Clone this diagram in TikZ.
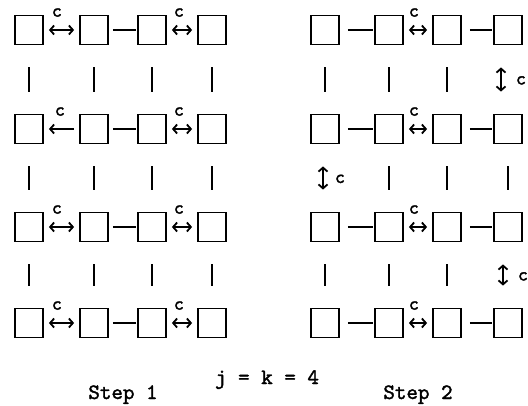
\documentclass[tikz,border=0pt]{standalone}
\usepackage{fontspec}
\newfontfamily\twfont[FakeBold=1.6]{lmmono10-regular.otf}
\usetikzlibrary{arrows.meta}
\begin{document}
\begin{tikzpicture}[x=1pt,y=-1pt,
  box/.style={draw, line width=1.8pt, minimum width=28pt, minimum height=29pt, inner sep=0pt},
  bar/.style={line width=1.6pt, shorten <=22pt, shorten >=22pt},
  link/.style={line width=1.8pt},
  dbl/.style={line width=1.8pt, {Straight Barb[length=4pt,width=9pt]}-{Straight Barb[length=4pt,width=9pt]}, shorten <=5pt, shorten >=5pt},
  larr/.style={line width=1.8pt, -{Straight Barb[length=4pt,width=9pt]}, shorten <=5pt, shorten >=5pt},
  vdbl/.style={line width=1.8pt, {Straight Barb[length=4pt,width=9pt]}-{Straight Barb[length=4pt,width=9pt]}, shorten <=22pt, shorten >=22pt},
  lab/.style={font=\twfont\fontsize{19}{19}\selectfont, inner sep=0pt},
  txt/.style={font=\twfont\fontsize{22}{24}\selectfont, anchor=base, inner sep=0pt}]
\useasboundingbox (0,0) rectangle (528,405);
% boxes
\foreach \r/\y in {1/30,2/129,3/227,4/323}{
  \foreach \c/\x in {1/29,2/94,3/152,4/212} \node[box] (L\r\c) at (\x,\y) {};
  \foreach \c/\x in {1/325,2/389,3/447,4/508} \node[box] (R\r\c) at (\x,\y) {};
}
% left vertical bars
\foreach \a/\b in {1/2,2/3,3/4} \foreach \c in {1,...,4} \draw[bar] (L\a\c) -- (L\b\c);
% right vertical bars
\foreach \c in {1,2,3} \draw[bar] (R1\c) -- (R2\c);
\foreach \c in {2,3,4} \draw[bar] (R2\c) -- (R3\c);
\foreach \c in {1,2,3} \draw[bar] (R3\c) -- (R4\c);
% right vertical double arrows
\draw[vdbl] ([xshift=-7pt]R14.south) -- ([xshift=-7pt]R24.north);
\node[lab] (cv1) at ([xshift=13pt,yshift=-35pt]R14.south) {c};
\draw[vdbl] ([xshift=-2pt]R21.south) -- ([xshift=-2pt]R31.north);
\node[lab] (cv2) at ([xshift=15pt,yshift=-34.5pt]R21.south) {c};
\draw[vdbl] ([xshift=-5pt]R34.south) -- ([xshift=-5pt]R44.north);
\node[lab] (cv3) at ([xshift=15pt,yshift=-34pt]R34.south) {c};
% left horizontal connectors
\foreach \r in {1,3,4} {
  \draw[dbl] (L\r1) -- (L\r2);
  \node[lab] (cl\r a) at ([xshift=13pt,yshift=2pt]L\r1.north east) {c};
}
\draw[larr] (L22) -- (L21);
\node[lab] (cl2a) at ([xshift=16pt,yshift=2pt]L21.north east) {c};
\foreach \r in {1,...,4} {
  \draw[link, shorten <=4pt, shorten >=1pt] (L\r2) -- (L\r3);
  \draw[dbl] (L\r3) -- (L\r4);
  \node[lab] (cl\r b) at ([xshift=12pt,yshift=2pt]L\r3.north east) {c};
}
% right horizontal connectors
\foreach \r in {1,...,4} {
  \draw[link, shorten <=8pt, shorten >=1pt] (R\r1) -- (R\r2);
  \draw[dbl] (R\r2) -- (R\r3);
  \node[lab] (cr\r) at ([xshift=10pt,yshift=2pt]R\r2.north east) {c};
  \draw[link, shorten <=8pt, shorten >=1pt] (R\r3) -- (R\r4);
}
% texts
\node[txt] (eq) at (267,384) {j = k = 4};
\node[txt] (s1) at (123,399) {Step 1};
\node[txt] (s2) at (418,399) {Step 2};
\end{tikzpicture}
\end{document}
